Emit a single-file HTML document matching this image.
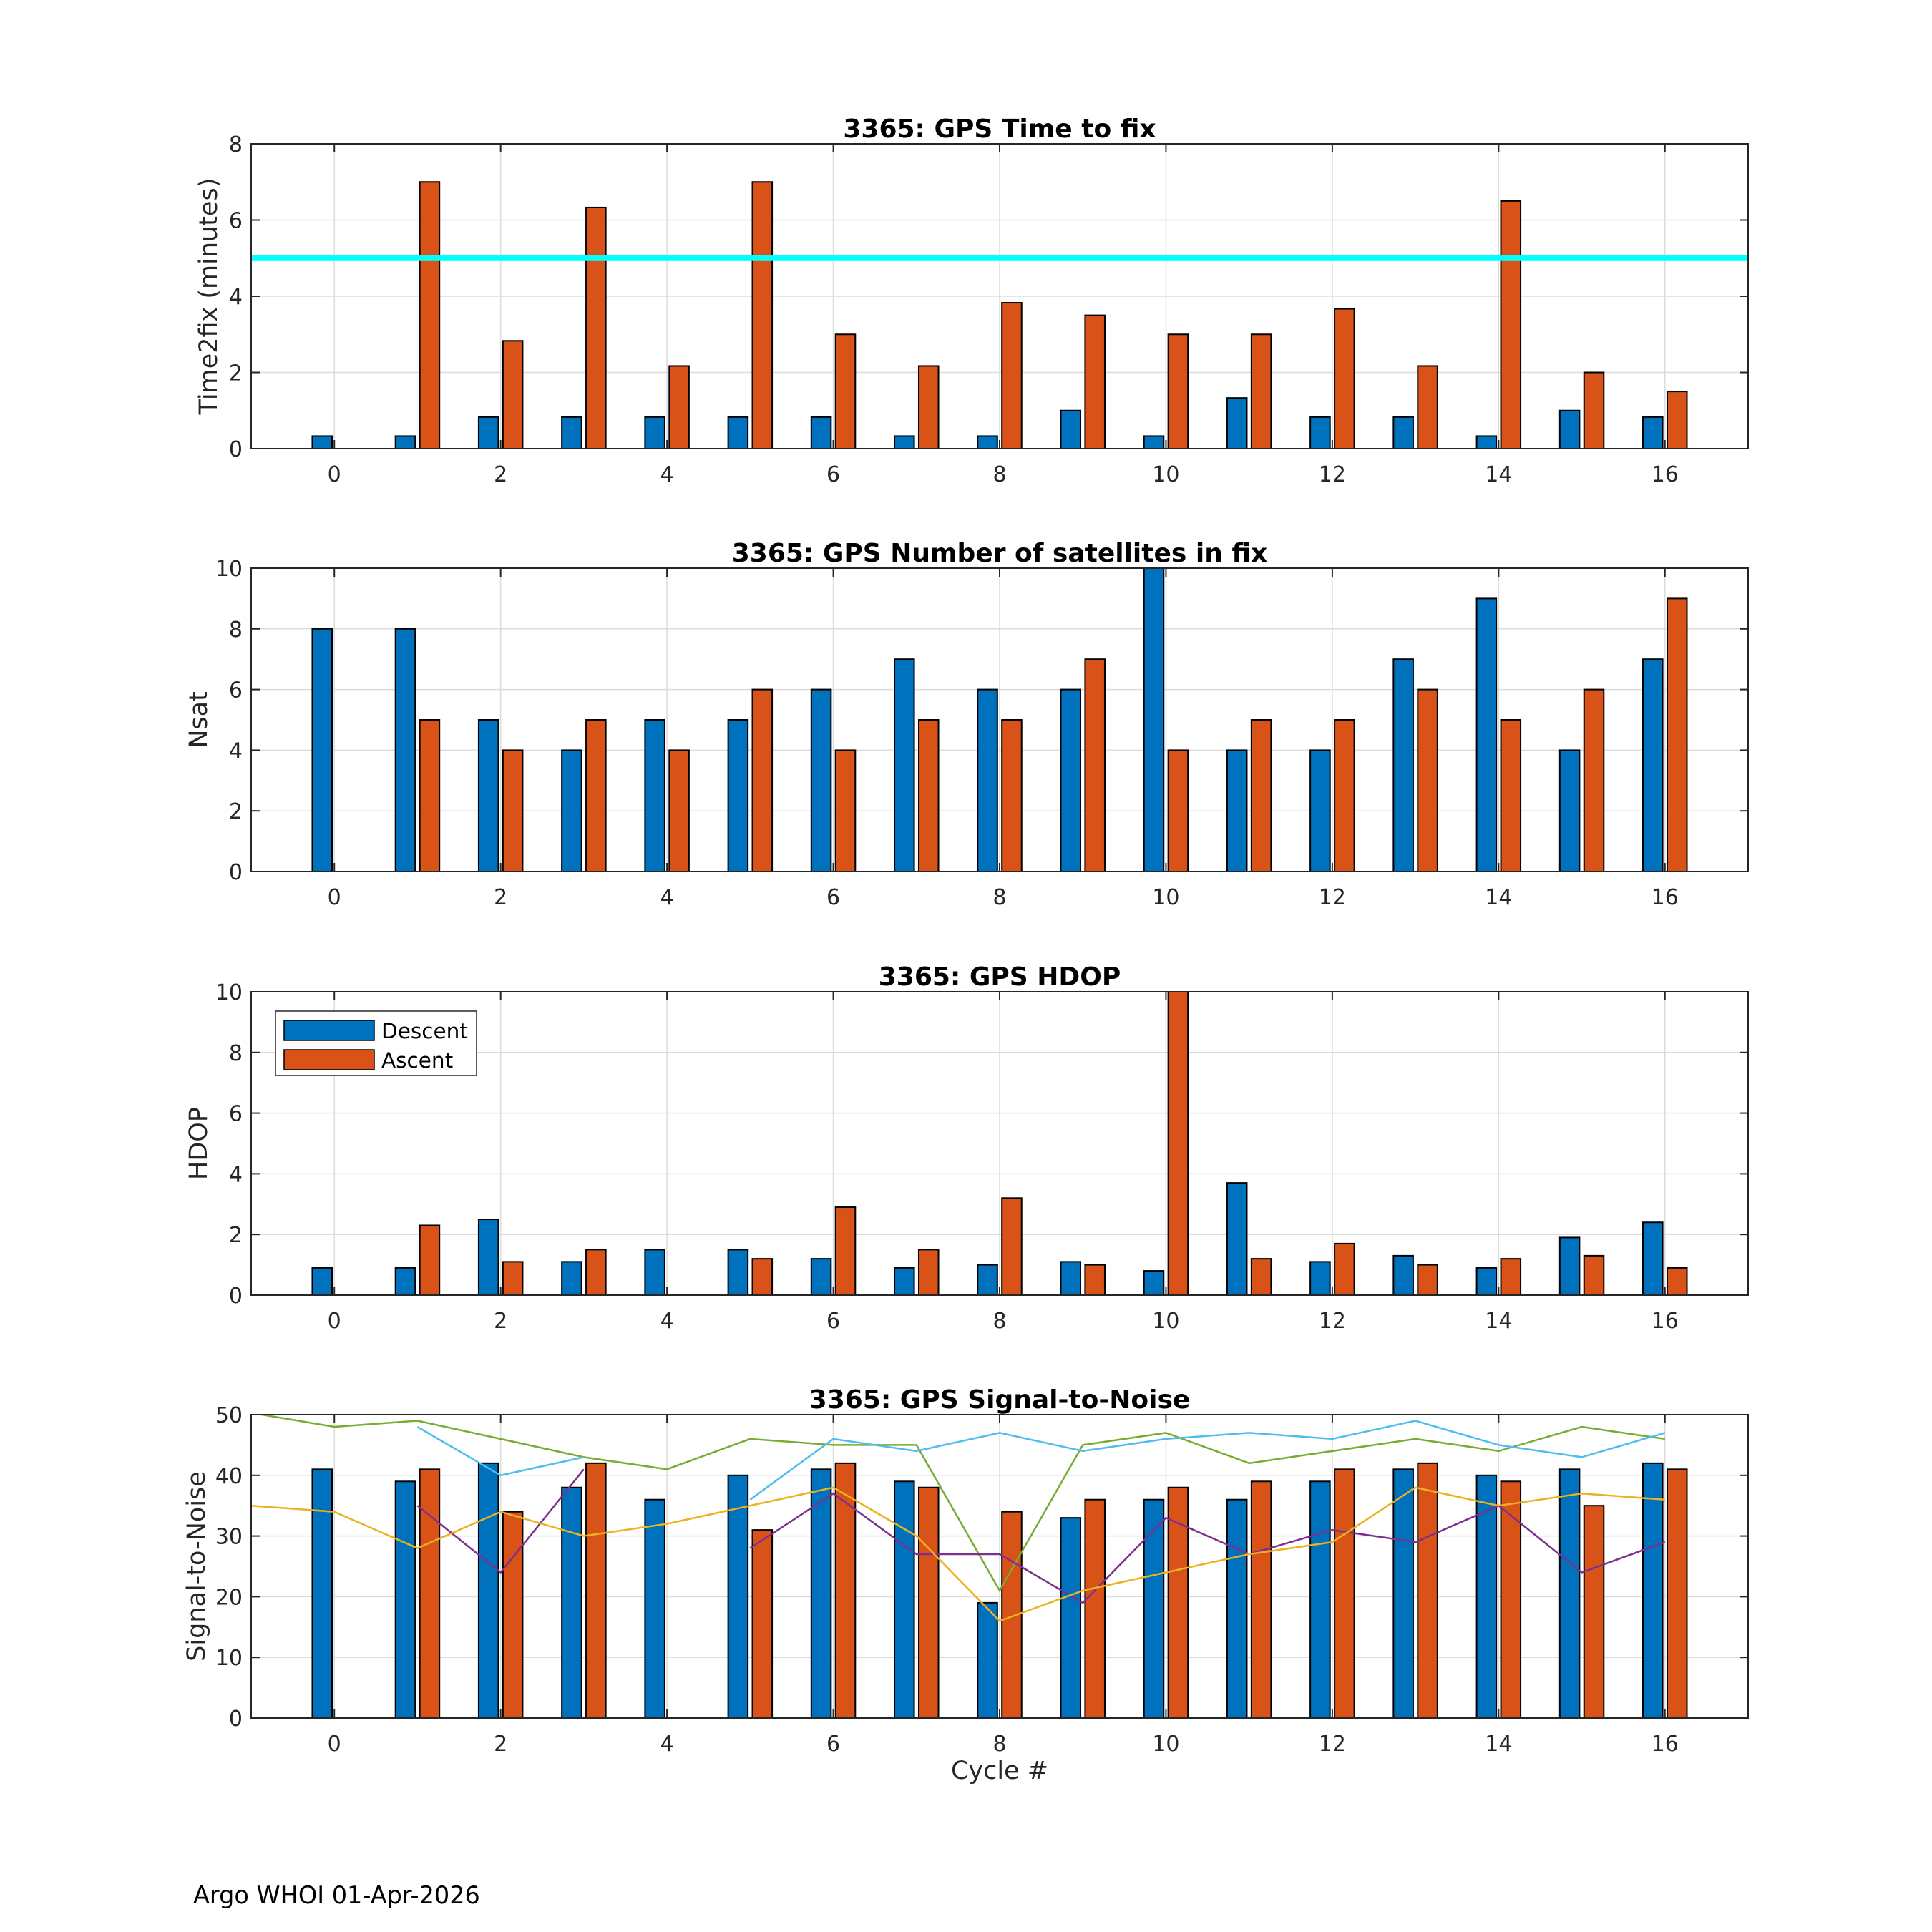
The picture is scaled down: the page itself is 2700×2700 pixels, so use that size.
<!DOCTYPE html>
<html><head><meta charset="utf-8"><style>
html,body{margin:0;padding:0;background:#fff;}
svg{display:block;font-family:"DejaVu Sans","Liberation Sans",sans-serif;}
</style></head><body>
<svg id="chart" width="2700" height="2700" viewBox="0 0 2700 2700" xmlns="http://www.w3.org/2000/svg">
<rect width="2700" height="2700" fill="#fff"/>
<text x="270" y="2660" font-size="33.5" fill="#000">Argo WHOI 01-Apr-2026</text>
</svg>
<script>
const cycles = [0,1,2,3,4,5,6,7,8,9,10,11,12,13,14,15,16];
const t2fDescent = [0.33,0.33,0.83,0.83,0.83,0.83,0.83,0.33,0.33,1,0.33,1.33,0.83,0.83,0.33,1,0.83];
const t2fAscent = [0,7,2.83,6.33,2.17,7,3,2.17,3.83,3.5,3,3,3.67,2.17,6.5,2,1.5];
const t2fLimit = 5;
const nsatDescent = [8,8,5,4,5,5,6,7,6,6,10,4,4,7,9,4,7];
const nsatAscent = [0,5,4,5,4,6,4,5,5,7,4,5,5,6,5,6,9];
const hdopDescent = [0.9,0.9,2.5,1.1,1.5,1.5,1.2,0.9,1.0,1.1,0.8,3.7,1.1,1.3,0.9,1.9,2.4];
const hdopAscent = [0,2.3,1.1,1.5,0,1.2,2.9,1.5,3.2,1.0,10,1.2,1.7,1.0,1.2,1.3,0.9];
const snrDescent = [41,39,42,38,36,40,41,39,19,33,36,36,39,41,40,41,42];
const snrAscent = [0,41,34,42,0,31,42,38,34,36,38,39,41,42,39,35,41];
const lineCycles = [-1,0,1,2,3,4,5,6,7,8,9,10,11,12,13,14,15,16];
const snrGreen = [50.3,48,49,46,43,41,46,45,45,21,45,47,42,44,46,44,48,46];
const snrCyan = [null,null,48,40,43,null,36,46,44,47,44,46,47,46,49,45,43,47];
const snrPurple = [null,null,35,24,41,null,28,37,27,27,19,33,27,31,29,35,24,29];
const snrYellow = [35,34,28,34,30,32,35,38,30,16,21,24,27,29,38,35,37,36];
const xTicks = [0,2,4,6,8,10,12,14,16];

const NS="http://www.w3.org/2000/svg";
const svg=document.getElementById('chart');
const L=351,R=2443,XMIN=-1,XMAX=17;
const xs=v=>L+(v-XMIN)/(XMAX-XMIN)*(R-L);
const BW=0.237,OFF=0.146;
function el(tag,attrs,parent){const e=document.createElementNS(NS,tag);for(const k in attrs)e.setAttribute(k,attrs[k]);(parent||svg).appendChild(e);return e;}

function panel(cfg){
  const g=el('g',{});
  
  
  const T=cfg.top,B=cfg.bottom;
  const ys=v=>B-(v-cfg.ymin)/(cfg.ymax-cfg.ymin)*(B-T);
  xTicks.forEach(t=>{const ln=el('line',{x1:xs(t),x2:xs(t),y1:T,y2:B,stroke:'#dcdcdc','stroke-width':1.5},g);
    });
  cfg.yticks.forEach(t=>{const ln=el('line',{x1:L,x2:R,y1:ys(t),y2:ys(t),stroke:'#dcdcdc','stroke-width':1.5},g);
    });
  cycles.forEach((c,i)=>{
    [[cfg.desc[i],-OFF,'#0072BD','descent'],[cfg.asc[i],OFF,'#D95319','ascent']].forEach(([v,o,col,nm])=>{
      if(v==null||v<=0)return;
      const vv=Math.min(v,cfg.ymax);
      const x0=xs(c+o-BW/2),x1=xs(c+o+BW/2);
      const r=el('rect',{x:x0,y:ys(vv),width:x1-x0,height:ys(cfg.ymin)-ys(vv),fill:col,stroke:'#000','stroke-width':2},g);
      
      
    });
  });
  if(cfg.extra)cfg.extra(g,ys);
  const box=el('rect',{x:L,y:T,width:R-L,height:B-T,fill:'none',stroke:'#262626','stroke-width':2},g);
  
  xTicks.forEach(t=>{
    el('line',{x1:xs(t),x2:xs(t),y1:B,y2:B-12,stroke:'#262626','stroke-width':2},g);
    el('line',{x1:xs(t),x2:xs(t),y1:T,y2:T+12,stroke:'#262626','stroke-width':2},g);
    const tx=el('text',{x:xs(t),y:B+46,'font-size':30,'text-anchor':'middle',fill:'#262626'},g);
    tx.textContent=t;
    
  });
  cfg.yticks.forEach(t=>{
    el('line',{x1:L,x2:L+12,y1:ys(t),y2:ys(t),stroke:'#262626','stroke-width':2},g);
    el('line',{x1:R,x2:R-12,y1:ys(t),y2:ys(t),stroke:'#262626','stroke-width':2},g);
    const tx=el('text',{x:L-12,y:ys(t)+11,'font-size':30,'text-anchor':'end',fill:'#262626'},g);
    tx.textContent=t;
    
  });
  const ti=el('text',{x:(L+R)/2,y:T-9,'font-size':36,'font-weight':'bold','text-anchor':'middle',fill:'#000'},g);
  ti.textContent=cfg.title;
  
  const cy=(T+B)/2, lx=cfg.ylx;
  const yl=el('text',{x:lx,y:cy,'font-size':35,'text-anchor':'middle',fill:'#262626',transform:`rotate(-90 ${lx} ${cy})`},g);
  yl.textContent=cfg.ylabel;
  
}

panel({name:'time-to-fix-panel',top:201,bottom:627,ymin:0,ymax:8,yticks:[0,2,4,6,8],desc:t2fDescent,asc:t2fAscent,ylx:303,
  title:'3365: GPS Time to fix',ylabel:'Time2fix (minutes)',
  extra:(g,ys)=>{const ln=el('line',{x1:L,x2:R,y1:ys(t2fLimit),y2:ys(t2fLimit),stroke:'#00FFFF','stroke-width':8},g);
    }});
panel({name:'nsat-panel',top:794,bottom:1218,ymin:0,ymax:10,yticks:[0,2,4,6,8,10],desc:nsatDescent,asc:nsatAscent,ylx:289,
  title:'3365: GPS Number of satellites in fix',ylabel:'Nsat'});
panel({name:'hdop-panel',top:1386,bottom:1810,ymin:0,ymax:10,yticks:[0,2,4,6,8,10],desc:hdopDescent,asc:hdopAscent,ylx:289,
  title:'3365: GPS HDOP',ylabel:'HDOP',
  extra:(g)=>{
    const lg=el('g',{},g);
    
    el('rect',{x:385,y:1413,width:281,height:90,fill:'#fff',stroke:'#262626','stroke-width':1.5},lg);
    [['Descent','#0072BD',1426],['Ascent','#D95319',1467]].forEach(([t,c,y])=>{
      const sw=el('rect',{x:397,y:y,width:126,height:28,fill:c,stroke:'#000','stroke-width':1.5},lg);
      
      const tx=el('text',{x:533,y:y+25,'font-size':29.5,fill:'#000'},lg);tx.textContent=t;
      
    });
  }});
panel({name:'snr-panel',top:1977,bottom:2401,ymin:0,ymax:50,yticks:[0,10,20,30,40,50],desc:snrDescent,asc:snrAscent,ylx:286,
  title:'3365: GPS Signal-to-Noise',ylabel:'Signal-to-Noise',
  extra:(g,ys)=>{
    const cp=el('clipPath',{id:'snrclip'},g);
    el('rect',{x:L,y:1977,width:R-L,height:424},cp);
    [[snrGreen,'#77AC30','snr-line-green'],[snrCyan,'#4DBEEE','snr-line-cyan'],[snrPurple,'#7E2F8E','snr-line-purple'],[snrYellow,'#EDB120','snr-line-yellow']].forEach(([arr,col,nm])=>{
      let d='',pen=false;
      lineCycles.forEach((c,i)=>{const v=arr[i];if(v==null){pen=false;return;}
        d+=(pen?'L':'M')+xs(c).toFixed(1)+' '+ys(v).toFixed(1)+' ';pen=true;});
      const p=el('path',{d:d,fill:'none',stroke:col,'stroke-width':2.5,'clip-path':'url(#snrclip)'},g);
      
    });
  }});
const xl=el('text',{x:(L+R)/2,y:2486,'font-size':35,'text-anchor':'middle',fill:'#262626'});
xl.textContent='Cycle #';


</script>
</body></html>
